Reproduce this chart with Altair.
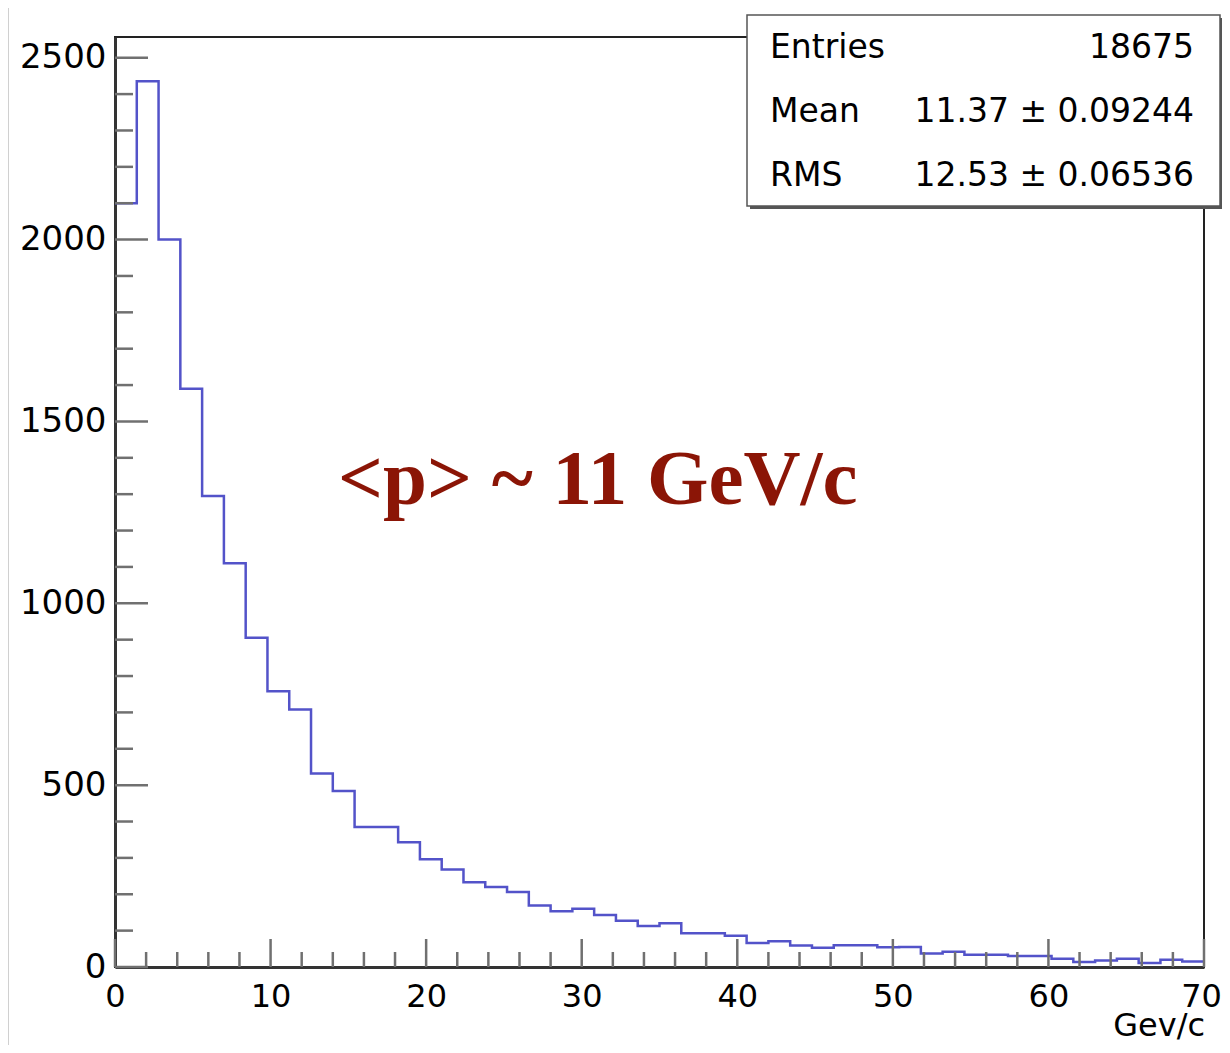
import altair as alt
import pandas as pd

# ---------------- data ----------------
bin_width = 1.4
counts = [2100, 2435, 2000, 1590, 1295, 1110, 905, 758, 708, 532,
          484, 385, 385, 343, 296, 268, 233, 220, 206, 169,
          153, 160, 143, 127, 113, 120, 93, 93, 86, 66,
          71, 59, 53, 60, 60, 54, 55, 37, 42, 34,
          34, 30, 30, 23, 14, 18, 23, 11, 20, 15]
x_major = [0, 10, 20, 30, 40, 50, 60, 70]
y_major = [0, 500, 1000, 1500, 2000, 2500]
x_minor = [v for v in range(0, 71, 2) if v % 10 != 0]
y_minor = [v for v in range(0, 2560, 100) if v % 500 != 0]
stats_labels = ["Entries", "Mean", "RMS"]
stats_values = ["18675", "11.37 ± 0.09244", "12.53 ± 0.06536"]
annotation = "<p> ~ 11 GeV/c"
x_title = "Gev/c"

# ---------------- layout ----------------
W, H = 1089, 930
X_DOM = [0, 70]
Y_DOM = [0, 2557]
FONT = "DejaVu Sans"

edges = [i * bin_width for i in range(len(counts) + 1)]
hist = pd.DataFrame({"x": edges, "y": counts + [counts[-1]]})

xs = alt.Scale(domain=X_DOM, nice=False, zero=False)
ys = alt.Scale(domain=Y_DOM, nice=False)

# outer light frame of the canvas
outer = alt.Chart(pd.DataFrame({"a": [0]})).mark_rect(
    fillOpacity=0, stroke="#d0d0d0", strokeWidth=2
).encode(
    x=alt.value(-107), x2=alt.value(1130), y=alt.value(-33), y2=alt.value(1013)
)

line = alt.Chart(hist).mark_line(
    interpolate="step-after", color="#5353c9", strokeWidth=2.5
).encode(
    x=alt.X("x:Q", scale=xs,
            axis=alt.Axis(values=x_major, title=None, ticks=False, grid=False,
                          format="d",
                          domainColor="#333333", domainWidth=3,
                          labelFont=FONT, labelFontSize=32, labelColor="black",
                          labelPadding=14, labelFlush=False, labelOverlap=False,
                          labelOffset={"condition": {"test": "datum.value == 70",
                                                     "value": -3},
                                       "value": 0})),
    y=alt.Y("y:Q", scale=ys,
            axis=alt.Axis(values=y_major, title=None, ticks=False, grid=False,
                          format="d",
                          domainColor="#333333", domainWidth=3,
                          labelFont=FONT, labelFontSize=34, labelColor="black",
                          labelPadding=9, labelFlush=False, labelOverlap=False)),
)

tick_color = "#707070"
xmaj = alt.Chart(pd.DataFrame({"v": x_major})).mark_rule(
    color=tick_color, strokeWidth=2.5
).encode(x=alt.X("v:Q", scale=xs), y=alt.value(H), y2=alt.value(H - 28))
xmin = alt.Chart(pd.DataFrame({"v": x_minor})).mark_rule(
    color=tick_color, strokeWidth=2.5
).encode(x=alt.X("v:Q", scale=xs), y=alt.value(H), y2=alt.value(H - 15))
ymaj = alt.Chart(pd.DataFrame({"v": y_major})).mark_rule(
    color=tick_color, strokeWidth=2.5
).encode(y=alt.Y("v:Q", scale=ys), x=alt.value(0), x2=alt.value(33))
ymin = alt.Chart(pd.DataFrame({"v": y_minor})).mark_rule(
    color=tick_color, strokeWidth=2.5
).encode(y=alt.Y("v:Q", scale=ys), x=alt.value(0), x2=alt.value(18))

# stats box
shadow = alt.Chart(pd.DataFrame({"a": [0]})).mark_rect(fill="#555555").encode(
    x=alt.value(635), x2=alt.value(1107), y=alt.value(-19), y2=alt.value(172)
)
box = alt.Chart(pd.DataFrame({"a": [0]})).mark_rect(
    fill="white", stroke="#555555", strokeWidth=1.5
).encode(
    x=alt.value(632), x2=alt.value(1105), y=alt.value(-22), y2=alt.value(169)
)
stats = pd.DataFrame({"label": stats_labels, "value": stats_values,
                      "row": list(range(len(stats_labels)))})
st_base = alt.Chart(stats).transform_calculate(py="21 + datum.row * 64.2")
st_lab = st_base.mark_text(
    align="left", baseline="alphabetic", font=FONT, fontSize=33, color="black"
).encode(x=alt.value(655), y=alt.Y("py:Q", scale=None), text="label:N")
st_val = st_base.mark_text(
    align="right", baseline="alphabetic", font=FONT, fontSize=33, color="black"
).encode(x=alt.value(1079), y=alt.Y("py:Q", scale=None), text="value:N")

ann = alt.Chart(pd.DataFrame({"t": [annotation]})).mark_text(
    align="left", baseline="alphabetic", font="Liberation Serif",
    fontWeight="bold", fontSize=79, color="#8b1506"
).encode(x=alt.value(223), y=alt.value(467), text="t:N")

xt = alt.Chart(pd.DataFrame({"t": [x_title]})).mark_text(
    align="right", baseline="alphabetic", font=FONT, fontSize=32, color="black"
).encode(x=alt.value(W + 1), y=alt.value(H + 69), text="t:N")

chart = alt.layer(
    outer, line, xmin, xmaj, ymin, ymaj, shadow, box, st_lab, st_val, ann, xt
).properties(
    width=W, height=H,
    autosize=alt.AutoSizeParams(type="none"),
    padding={"left": 107, "top": 29, "right": 18, "bottom": 78},
    background="white",
).configure_view(
    stroke="#222222", strokeWidth=2
)

chart.save("out.html", embed_options={"renderer": "svg", "actions": False})
